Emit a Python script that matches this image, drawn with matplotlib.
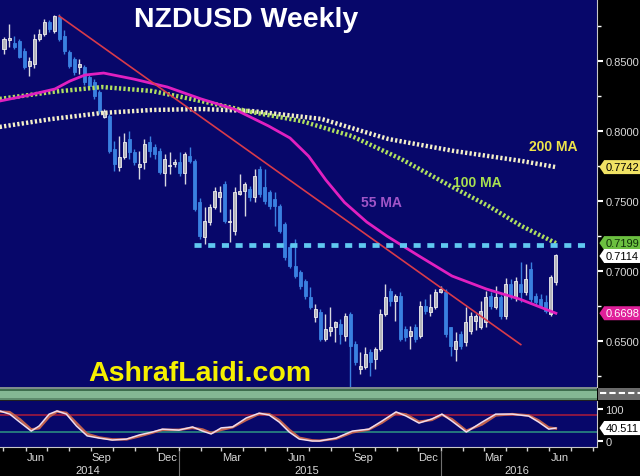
import numpy as np
import pandas as pd
import matplotlib
matplotlib.use('Agg')
import matplotlib.pyplot as plt
import matplotlib.dates as mdates
from matplotlib.patches import Rectangle, Polygon
from matplotlib.lines import Line2D

plt.rcParams['font.family'] = ['Liberation Sans', 'DejaVu Sans']

# weekly NZDUSD candles, week ending Fridays from 2014-05-02
opens = [.8586, .8650, .8629, .8643, .8571, .8464, .8479, .8657, .8693, .8779,
         .8714, .8814, .8680, .8564, .8514, .8457, .8457, .8386, .8350, .8279,
         .8100, .8107, .7871, .7743, .7814, .7943, .7850, .7743, .7779, .7921,
         .7886, .7857, .7700, .7750, .7764, .7779, .7700, .7821, .7786, .7493,
         .7243, .7350, .7457, .7529, .7621, .7350, .7286, .7550, .7571, .7586,
         .7529, .7729, .7600, .7564, .7514, .7464, .7336, .7171, .7036, .6993,
         .6929, .6814, .6671, .6707, .6514, .6571, .6600, .6621, .6536, .6693,
         .6479, .6300, .6314, .6421, .6371, .6443, .6693, .6857, .6786, .6821,
         .6586, .6536, .6600, .6536, .6750, .6707, .6743, .6850, .6850, .6600,
         .6443, .6550, .6493, .6571, .6643, .6600, .6636, .6821, .6743, .6814,
         .6679, .6907, .6814, .6907, .6850, .7014, .6821, .6800, .6779, .6693,
         .6921]
highs = [.8671, .8764, .8679, .8660, .8590, .8529, .8693, .8729, .8800, .8790,
         .8829, .8836, .8720, .8580, .8530, .8514, .8470, .8400, .8370, .8290,
         .8160, .8120, .7929, .7964, .7986, .8000, .7870, .7857, .7943, .7964,
         .7910, .7880, .7836, .7850, .7800, .7850, .7850, .7886, .7800, .7520,
         .7457, .7480, .7600, .7607, .7640, .7443, .7600, .7693, .7636, .7610,
         .7729, .7750, .7730, .7580, .7564, .7480, .7350, .7190, .7229, .7010,
         .6940, .6886, .6764, .6730, .6693, .6743, .6640, .6657, .6700, .6710,
         .6500, .6421, .6457, .6440, .6457, .6729, .6907, .6880, .6836, .6850,
         .6610, .6607, .6620, .6786, .6800, .6836, .6870, .6890, .6870, .6600,
         .6564, .6570, .6743, .6710, .6693, .6786, .6857, .6850, .6893, .6830,
         .6950, .6940, .6957, .7064, .7050, .7064, .6840, .6836, .6829, .6971,
         .7121]
lows = [.8550, .8600, .8586, .8520, .8440, .8393, .8450, .8640, .8680, .8710,
        .8700, .8640, .8550, .8450, .8400, .8407, .8330, .8300, .8230, .8120,
        .8090, .7840, .7714, .7714, .7800, .7800, .7760, .7657, .7729, .7814,
        .7800, .7690, .7607, .7693, .7740, .7679, .7621, .7771, .7430, .7230,
        .7193, .7330, .7440, .7421, .7340, .7207, .7257, .7540, .7393, .7500,
        .7493, .7530, .7480, .7440, .7321, .7270, .7080, .7020, .6950, .6870,
        .6800, .6729, .6636, .6500, .6500, .6536, .6493, .6479, .6500, .6130,
        .6330, .6264, .6300, .6250, .6300, .6430, .6680, .6750, .6643, .6500,
        .6500, .6443, .6490, .6520, .6690, .6679, .6730, .6840, .6530, .6393,
        .6357, .6440, .6464, .6550, .6579, .6586, .6600, .6730, .6730, .6660,
        .6660, .6800, .6786, .6779, .6829, .6780, .6760, .6743, .6700, .6679,
        .6900]
closes = [.8657, .8664, .8600, .8529, .8457, .8500, .8657, .8693, .8779, .8729,
          .8821, .8657, .8571, .8464, .8421, .8479, .8350, .8321, .8250, .8143,
          .8143, .7857, .7764, .7814, .7921, .7850, .7779, .7764, .7907, .7857,
          .7836, .7707, .7800, .7760, .7779, .7700, .7836, .7786, .7443, .7250,
          .7357, .7457, .7571, .7564, .7357, .7360, .7564, .7571, .7621, .7529,
          .7679, .7550, .7500, .7464, .7464, .7286, .7100, .7036, .6964, .6893,
          .6821, .6743, .6729, .6514, .6586, .6600, .6636, .6550, .6679, .6464,
          .6350, .6321, .6407, .6350, .6443, .6693, .6814, .6786, .6821, .6514,
          .6529, .6571, .6514, .6750, .6714, .6743, .6850, .6871, .6550, .6464,
          .6500, .6464, .6636, .6679, .6679, .6714, .6814, .6750, .6814, .6679,
          .6907, .6821, .6929, .6850, .6943, .6800, .6779, .6750, .6714, .6957,
          .7114]

# moving averages
ma55_dates = ['2014-04-26', '2014-05-31', '2014-07-12', '2014-08-02', '2014-08-23',
              '2014-09-18', '2014-10-30', '2014-12-16', '2015-02-01', '2015-03-19',
              '2015-05-06', '2015-06-05', '2015-07-01', '2015-07-25', '2015-08-20',
              '2015-09-20', '2015-10-18', '2015-12-02', '2016-01-17', '2016-03-05',
              '2016-04-20', '2016-06-10']
ma55 = [.8214, .8250, .8300, .8357, .8400, .8414, .8371, .8314, .8229, .8157,
        .8036, .7950, .7820, .7650, .7490, .7350, .7250, .7107, .6964, .6871,
        .6800, .6698]
ma100_dates = ['2014-04-26', '2014-07-08', '2014-09-16', '2014-11-24', '2015-02-01',
               '2015-04-12', '2015-06-21', '2015-08-30', '2015-11-07', '2016-01-20',
               '2016-03-08', '2016-04-23', '2016-06-10']
ma100 = [.8229, .8279, .8314, .8286, .8214, .8136, .8071, .7964, .7800, .7593,
         .7464, .7321, .7199]
ma200_dates = ['2014-04-26', '2014-07-08', '2014-09-16', '2014-11-24', '2015-02-01',
               '2015-04-12', '2015-07-19', '2015-10-20', '2016-01-20', '2016-04-23',
               '2016-06-10']
ma200 = [.8029, .8086, .8129, .8150, .8157, .8143, .8086, .7943, .7857, .7786, .7742]

trend_dates = ['2014-07-18', '2016-04-22']
trend_vals = [.8821, .6474]
support_dates = ['2015-01-22', '2016-07-26']
support_vals = [.7185, .7185]

# slow stochastics (lower panel)
stoch_dates = ['2014-04-26', '2014-05-10', '2014-05-24', '2014-06-09', '2014-06-20',
               '2014-07-04', '2014-07-15', '2014-07-28', '2014-08-11', '2014-08-26',
               '2014-09-12', '2014-09-30', '2014-10-20', '2014-11-07', '2014-11-25',
               '2014-12-09', '2015-01-01', '2015-01-20', '2015-02-03', '2015-02-15',
               '2015-03-01', '2015-03-17', '2015-04-05', '2015-04-23', '2015-05-07',
               '2015-05-21', '2015-06-04', '2015-06-18', '2015-07-06', '2015-07-16',
               '2015-08-08', '2015-08-31', '2015-09-23', '2015-10-11', '2015-10-31',
               '2015-11-14', '2015-12-02', '2015-12-20', '2016-01-03', '2016-01-17',
               '2016-02-06', '2016-02-28', '2016-03-18', '2016-04-10', '2016-05-03',
               '2016-05-17', '2016-05-31', '2016-06-10']
stoch_k = [94, 84, 59, 31, 47, 84, 94, 84, 47, 16, 9, 3, 6, 19, 28, 37, 34, 44, 31, 22,
           41, 44, 72, 87, 81, 59, 28, 6, 0, 0, 9, 31, 37, 62, 91, 78, 56, 69, 84, 62,
           28, 59, 84, 84, 78, 59, 37, 40.5]
stoch_d = [92, 90, 68, 36, 40, 76, 92, 88, 56, 22, 11, 5, 5, 15, 26, 35, 35, 41, 36, 25,
           35, 43, 66, 85, 84, 65, 35, 10, 2, 1, 7, 27, 36, 57, 87, 83, 60, 66, 82, 68,
           32, 52, 80, 84, 80, 64, 42, 39]

navy = '#07076a'
W, H = 640, 477
fig = plt.figure(figsize=(6.4, 4.77), dpi=100, facecolor='black')

def fx(px):
    return px / W

def fy(px):
    return 1 - px / H

ax = fig.add_axes([0, fy(388), fx(597), 388 / H], facecolor=navy)
axl = fig.add_axes([0, fy(448), fx(597), 46 / H], facecolor=navy, sharex=ax)

xl = mdates.date2num(pd.Timestamp('2014-04-26 10:00'))
xr = mdates.date2num(pd.Timestamp('2016-08-06 08:00'))
ax.set_xlim(xl, xr)
ax.set_ylim(0.6171, 0.8943)

# candles
dates = pd.date_range('2014-05-02', periods=len(closes), freq='W-FRI')
xd = mdates.date2num(dates)
o = np.array(opens); h = np.array(highs); l = np.array(lows); c = np.array(closes)
up = c >= o
dn = ~up
ax.vlines(xd[up], l[up], h[up], color='#d8d8e0', lw=1, zorder=3)
ax.vlines(xd[dn], l[dn], h[dn], color='#3a80e0', lw=1, zorder=3)
body = np.maximum(np.abs(c - o), 0.0008)
ax.bar(xd[up], body[up], bottom=np.minimum(o, c)[up], width=4.2,
       color='#b4b4bc', edgecolor='#f0f0f0', lw=0.6, zorder=4)
ax.bar(xd[dn], body[dn], bottom=np.minimum(o, c)[dn], width=4.2,
       color='#3a80e0', edgecolor='#3a80e0', lw=0.6, zorder=4)

# moving averages
ax.plot(pd.to_datetime(ma200_dates), ma200, color='#f4f0c8', lw=3.2,
        ls=(0, (0.5, 0.5)), zorder=5)
ax.plot(pd.to_datetime(ma100_dates), ma100, color='#b0e060', lw=3.2,
        ls=(0, (0.5, 0.5)), zorder=5)
ax.plot(pd.to_datetime(ma55_dates), ma55, color='#e020c0', lw=2.0, zorder=6)
ax.plot(pd.to_datetime(trend_dates), trend_vals, color='#d83a4a', lw=1.2, zorder=6)
ax.plot(pd.to_datetime(support_dates), support_vals, color='#60c8f0', lw=3.4,
        ls=(0, (1.5, 1.4)), zorder=6)

ax.text(553 / 597, 1 - 147 / 388, '200 MA', transform=ax.transAxes, color='#eee44a',
        fontsize=10, fontweight='bold', ha='center', va='center')
ax.text(477 / 597, 1 - 183 / 388, '100 MA', transform=ax.transAxes, color='#a8e050',
        fontsize=10, fontweight='bold', ha='center', va='center')
ax.text(381 / 597, 1 - 203 / 388, '55 MA', transform=ax.transAxes, color='#a055c8',
        fontsize=10, fontweight='bold', ha='center', va='center')

fig.text(fx(246.5), fy(27), 'NZDUSD Weekly', color='white', fontsize=20.5,
         fontweight='bold', ha='center', va='baseline')
fig.text(fx(199.5), fy(381), 'AshrafLaidi.com', color='#f5f000', fontsize=20.5,
         fontweight='bold', ha='center', va='baseline')

# axes styling
for a in (ax, axl):
    for s in ('top', 'left', 'bottom'):
        a.spines[s].set_visible(False)
    a.spines['right'].set_color('#c8c8c8')
    a.yaxis.tick_right()
    a.tick_params(axis='y', colors='white', labelcolor='#d8d8d8', labelsize=8,
                  direction='out', length=4, width=1.5, pad=2)
ax.tick_params(axis='x', bottom=False, labelbottom=False)
ax.set_yticks([0.65, 0.70, 0.75, 0.80, 0.85])
ax.set_yticks(np.arange(0.625, 0.89, 0.05), minor=True)
ax.yaxis.set_major_formatter(matplotlib.ticker.FormatStrFormatter('%.4f'))
ax.tick_params(axis='y', which='minor', colors='white', length=3, width=1)

# lower panel
axl.set_ylim(-18.75, 125)
axl.axhline(80, color='#a01a3e', lw=1.2)
axl.axhline(28, color='#2a8a80', lw=1.2)
sd = pd.to_datetime(stoch_dates)
axl.plot(sd, stoch_d, color='#c0604e', lw=1.8)
axl.plot(sd, stoch_k, color='#f0dcec', lw=1.1)
axl.set_yticks([0, 100])
axl.spines['bottom'].set_visible(True)
axl.spines['bottom'].set_color('#c8c8c8')

months = pd.date_range('2014-05-01', '2016-08-01', freq='MS')
axl.set_xticks(mdates.date2num(months))
axl.tick_params(axis='x', colors='#d0d0d0', direction='out', length=3, width=1,
                labelbottom=False)
xt = axl.get_xaxis_transform()
for m in ['2014-06', '2014-09', '2014-12', '2015-03', '2015-06', '2015-09',
          '2015-12', '2016-03', '2016-06']:
    mid = pd.Timestamp(m + '-15')
    axl.text(mdates.date2num(mid), -0.22, mid.strftime('%b'), transform=xt,
             color='#d8d8d8', fontsize=8, ha='center', va='center', clip_on=False)
for yr, xp in [('2014', 88), ('2015', 307), ('2016', 517)]:
    fig.text(fx(xp), fy(471), yr, color='#d8d8d8', fontsize=8, ha='center', va='center')
for d in ['2015-01-01', '2016-01-01']:
    xx = mdates.date2num(pd.Timestamp(d))
    axl.add_line(Line2D([xx, xx], [-0.09, -0.7], transform=xt, color='#707070',
                        lw=0.8, clip_on=False))

# separator band between panels
band = [(388, 2, '#7d8c8c'), (390, 2, '#3e6e4e'), (392, 7, '#84b894'),
        (399, 2, '#5e8c6e'), (401, 1, '#202020')]
for y0, hh, col in band:
    fig.add_artist(Rectangle((0, fy(y0 + hh)), fx(597), hh / H, transform=fig.transFigure,
                             color=col, lw=0))
fig.add_artist(Rectangle((fx(598), fy(401)), fx(42), 12 / H, transform=fig.transFigure,
                         color='#6a6a6a', lw=0))
fig.add_artist(Line2D([fx(600), fx(640)], [fy(394), fy(394)], transform=fig.transFigure,
                      color='white', lw=1.5, ls=(0, (3, 1.5))))

# price tags on the right
def tag(a, yv, txt, fc, tc, hh):
    tr = a.get_yaxis_transform()
    pts = [(1.004, yv), (1.012, yv + hh), (1.08, yv + hh), (1.08, yv - hh), (1.012, yv - hh)]
    a.add_patch(Polygon(pts, closed=True, transform=tr, clip_on=False, fc=fc, ec='none',
                        zorder=8))
    a.text(1.014, yv, txt, transform=tr, ha='left', va='center', color=tc, fontsize=8,
           clip_on=False, zorder=9)

tag(ax, 0.7742, '0.7742', '#f0e264', 'black', 0.005)
tag(ax, 0.7199, '0.7199', '#6cc040', '#10300a', 0.005)
tag(ax, 0.7107, '0.7114', 'white', 'black', 0.005)
tag(ax, 0.6698, '0.6698', '#e0209a', 'white', 0.005)
tag(axl, 40.5, '40.511', 'white', 'black', 22)

fig.savefig('out.png', dpi=100, facecolor='black')
